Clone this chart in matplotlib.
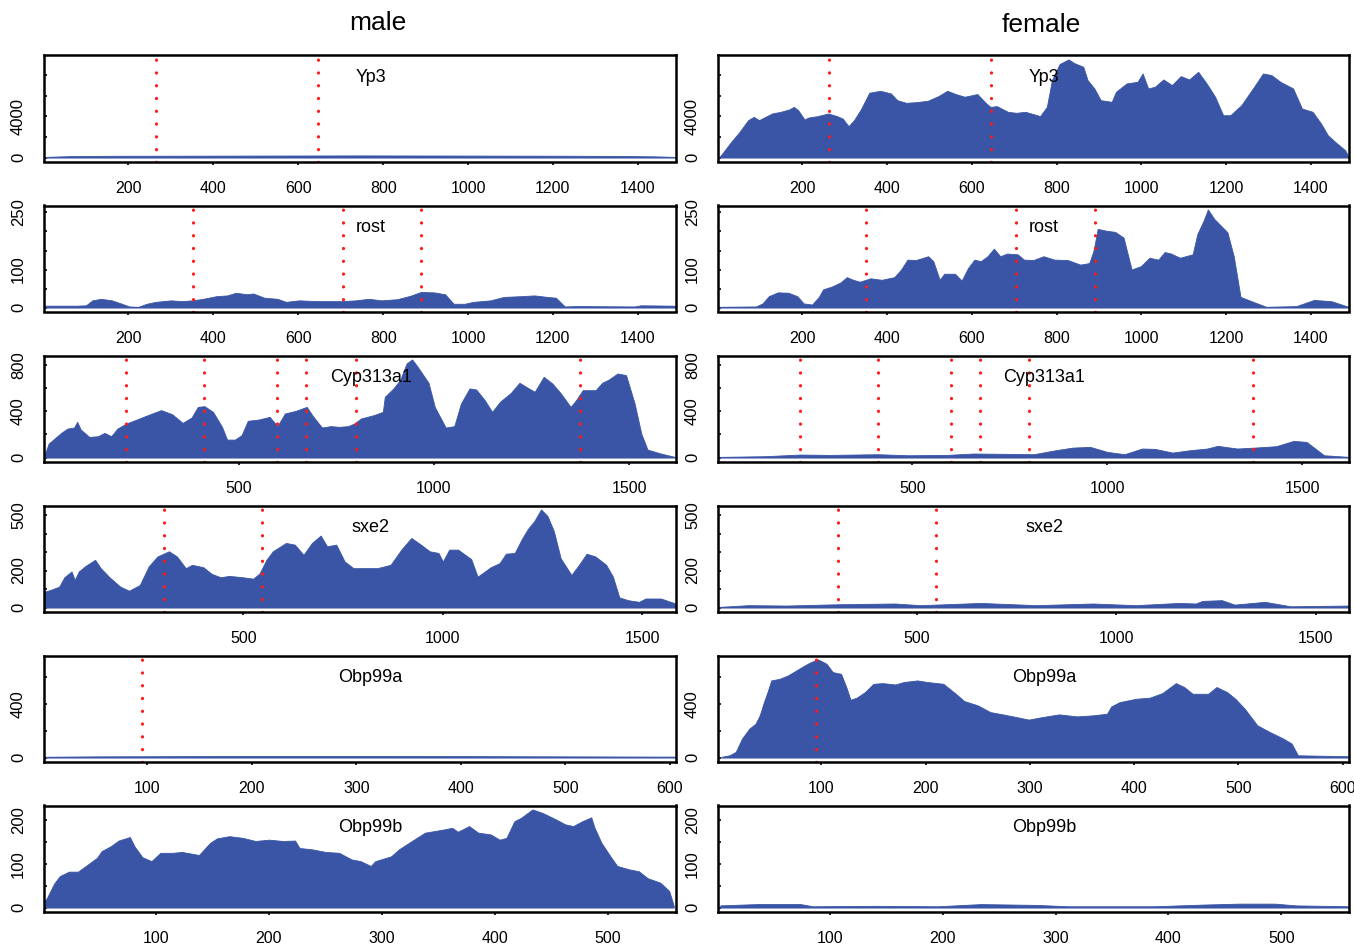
import matplotlib.pyplot as plt

plt.rcParams['font.family'] = ['Liberation Sans', 'DejaVu Sans']

# ── Genes, lengths, axes ──────────────────────────────────────────────────────
GENES = ['Yp3', 'rost', 'Cyp313a1', 'sxe2', 'Obp99a', 'Obp99b']
GENE_LEN = [1490, 1490, 1620, 1584, 606, 560]
SEXES = ['male', 'female']

X_TICKS = [
    [200, 400, 600, 800, 1000, 1200, 1400],
    [200, 400, 600, 800, 1000, 1200, 1400],
    [500, 1000, 1500],
    [500, 1000, 1500],
    [100, 200, 300, 400, 500, 600],
    [100, 200, 300, 400, 500],
]
Y_TICKS = [
    [0, 2000, 4000, 6000, 8000],
    [0, 50, 100, 150, 200, 250],
    [0, 200, 400, 600, 800],
    [0, 100, 200, 300, 400, 500],
    [0, 200, 400, 600],
    [0, 50, 100, 150, 200],
]
Y_TICK_LABELS = [
    ['0', '', '4000', '', ''],
    ['0', '', '100', '', '', '250'],
    ['0', '', '400', '', '800'],
    ['0', '', '200', '', '', '500'],
    ['0', '', '400', ''],
    ['0', '', '100', '', '200'],
]

# exon boundaries (dotted red lines)
BOUNDARIES = [
    [264, 646],
    [351, 705, 890],
    [211, 412, 598, 673, 800, 1373],
    [302, 548],
    [95],
    [],
]

# ── Coverage profiles ─────────────────────────────────────────────────────────
YP3_M_X = [1, 60, 150, 300, 450, 600, 750, 900, 1050, 1200, 1350, 1440, 1490]
YP3_M_Y = [60, 140, 170, 180, 190, 200, 210, 200, 190, 180, 160, 120, 60]
YP3_F_X = [3, 11, 32, 52, 72, 85, 98, 113, 129, 149, 169, 180, 190, 205, 215,
           236, 261, 282, 295, 309, 322, 338, 358, 384, 409, 424, 445, 470,
           496, 521, 542, 562, 583, 613, 634, 644, 659, 685, 705, 726, 746,
           761, 777, 789, 807, 828, 843, 863, 873, 889, 904, 930, 940, 965,
           991, 1003, 1016, 1032, 1052, 1072, 1093, 1113, 1134, 1154, 1174,
           1193, 1210, 1236, 1266, 1287, 1307, 1328, 1358, 1379, 1404, 1424,
           1440, 1460, 1481, 1490]
YP3_F_Y = [0, 390, 1520, 2500, 3630, 3950, 3630, 3950, 4280, 4440, 4670, 4920,
           4600, 3700, 3890, 4020, 4280, 4020, 3790, 3050, 3630, 4670, 6290,
           6480, 6220, 5570, 5310, 5380, 5510, 5960, 6480, 6160, 5900, 6160,
           5250, 4920, 4990, 4440, 4340, 4440, 4210, 4020, 4920, 7520, 9070,
           9520, 9140, 8810, 7520, 6710, 5570, 5410, 6380, 7190, 7350, 8160,
           6710, 6870, 7580, 7030, 7900, 7580, 8320, 7190, 5900, 4110, 4110,
           5090, 6870, 8160, 8000, 7350, 6710, 4760, 4440, 3300, 2170, 1430,
           710, 0]

ROST_M_X = [2, 79, 100, 115, 135, 161, 187, 202, 223, 243, 264, 300, 325, 351,
            376, 407, 433, 453, 479, 494, 520, 551, 571, 602, 643, 674, 705,
            735, 766, 797, 833, 864, 889, 920, 946, 966, 992, 1012, 1053, 1084,
            1125, 1156, 1187, 1207, 1228, 1258, 1392, 1407, 1484, 1490]
ROST_M_Y = [5, 5, 6, 19, 23, 19, 9, 3, 2, 10, 15, 19, 17, 19, 23, 30, 32, 39,
            35, 37, 26, 23, 15, 19, 17, 17, 17, 19, 23, 19, 22, 31, 41, 40, 35,
            10, 10, 15, 19, 28, 30, 32, 28, 26, 3, 4, 3, 6, 5, 4]
ROST_F_X = [4, 91, 106, 121, 142, 167, 188, 203, 223, 239, 249, 269, 290, 305,
            320, 336, 361, 387, 417, 433, 448, 468, 497, 509, 524, 535, 560,
            576, 591, 606, 621, 637, 652, 667, 683, 708, 723, 745, 769, 795,
            826, 856, 877, 887, 897, 917, 938, 958, 977, 999, 1019, 1040, 1055,
            1070, 1091, 1121, 1132, 1147, 1157, 1172, 1203, 1218, 1234, 1264,
            1295, 1366, 1407, 1448, 1489]
ROST_F_Y = [2, 3, 11, 30, 40, 39, 30, 11, 8, 28, 48, 55, 66, 80, 73, 68, 77, 73,
            80, 100, 126, 125, 135, 122, 73, 89, 89, 71, 104, 126, 122, 135, 155,
            135, 142, 140, 126, 125, 135, 126, 125, 113, 117, 149, 207, 202, 199,
            184, 100, 109, 131, 126, 146, 142, 131, 140, 193, 229, 258, 233, 198,
            135, 28, 15, 2, 4, 20, 17, 2]

CYP_M_X = [2, 13, 28, 45, 61, 78, 86, 95, 117, 139, 156, 173, 189, 212, 234,
           267, 301, 329, 356, 379, 395, 412, 434, 457, 470, 490, 507, 523, 551,
           579, 599, 618, 646, 674, 690, 713, 735, 757, 780, 796, 813, 846, 869,
           874, 896, 913, 930, 944, 958, 986, 1002, 1030, 1052, 1069, 1091,
           1108, 1130, 1149, 1169, 1197, 1219, 1236, 1258, 1281, 1303, 1325,
           1350, 1364, 1381, 1414, 1431, 1448, 1470, 1492, 1514, 1531, 1547,
           1581, 1617]
CYP_M_Y = [20, 121, 164, 213, 250, 259, 308, 242, 178, 184, 213, 184, 250, 294,
           322, 366, 409, 374, 299, 345, 437, 443, 394, 265, 155, 155, 193, 317,
           328, 351, 271, 380, 403, 437, 357, 259, 271, 265, 271, 294, 337, 366,
           394, 524, 596, 668, 812, 846, 783, 645, 437, 259, 271, 466, 596, 587,
           495, 394, 481, 558, 645, 610, 567, 696, 639, 553, 437, 495, 581, 581,
           645, 673, 725, 711, 466, 207, 69, 35, 6]
CYP_F_X = [6, 122, 211, 289, 411, 489, 589, 656, 744, 811, 867, 911, 956, 1000,
           1044, 1089, 1122, 1167, 1211, 1256, 1283, 1333, 1378, 1433, 1478,
           1511, 1556, 1620]
CYP_F_Y = [6, 12, 26, 23, 29, 20, 23, 35, 32, 29, 63, 86, 92, 49, 29, 78, 75, 43,
           63, 78, 101, 78, 86, 98, 144, 135, 20, 6]

SXE2_M_X = [1, 17, 39, 52, 70, 78, 88, 105, 129, 143, 165, 192, 214, 241, 263,
            285, 314, 334, 356, 372, 400, 421, 443, 465, 498, 525, 541, 558,
            574, 607, 629, 651, 672, 694, 710, 733, 754, 776, 803, 836, 869,
            896, 921, 945, 967, 989, 1000, 1016, 1038, 1071, 1087, 1120, 1142,
            1158, 1180, 1197, 1213, 1229, 1246, 1262, 1278, 1295, 1322, 1344,
            1360, 1382, 1409, 1426, 1442, 1464, 1491, 1508, 1546, 1583]
SXE2_M_Y = [85, 95, 113, 164, 195, 149, 195, 225, 258, 213, 164, 113, 91, 122,
            222, 276, 304, 276, 213, 231, 218, 182, 164, 171, 164, 156, 185, 258,
            304, 349, 340, 285, 349, 389, 331, 340, 249, 213, 213, 213, 231, 313,
            376, 340, 304, 295, 249, 313, 313, 262, 167, 218, 240, 291, 295, 367,
            425, 467, 530, 495, 413, 267, 176, 240, 291, 276, 231, 167, 55, 40,
            31, 49, 49, 22]
SXE2_F_X = [6, 77, 174, 303, 444, 509, 660, 800, 941, 1049, 1157, 1200, 1216,
            1265, 1297, 1373, 1437, 1584]
SXE2_F_Y = [4, 13, 11, 18, 22, 13, 25, 13, 22, 13, 25, 22, 36, 40, 16, 31, 7, 11]

OBP99A_M_X = [1, 50, 100, 200, 300, 400, 500, 606]
OBP99A_M_Y = [6, 9, 10, 12, 12, 11, 9, 7]
OBP99A_F_X = [4, 12, 18, 24, 31, 37, 41, 45, 49, 52, 60, 68, 76, 84, 90, 97, 105,
              111, 119, 124, 128, 134, 142, 150, 159, 171, 179, 192, 202, 217,
              229, 237, 250, 262, 274, 287, 299, 312, 328, 345, 361, 374, 378,
              386, 402, 415, 427, 440, 448, 456, 471, 479, 489, 497, 506, 518,
              530, 543, 551, 557, 605]
OBP99A_F_Y = [5, 17, 42, 141, 215, 252, 314, 412, 499, 573, 585, 610, 647, 684,
              709, 729, 697, 635, 622, 524, 430, 445, 487, 548, 553, 543, 561,
              573, 561, 548, 474, 420, 388, 338, 321, 301, 282, 301, 321, 306,
              314, 326, 380, 412, 437, 445, 479, 553, 524, 474, 474, 524, 487,
              437, 363, 240, 190, 141, 104, 17, 10]

OBP99B_M_X = [2, 4, 10, 15, 23, 31, 38, 48, 52, 60, 67, 77, 81, 88, 96, 104, 115,
              123, 138, 148, 154, 165, 177, 188, 200, 212, 223, 227, 238, 250,
              262, 273, 281, 290, 294, 308, 315, 327, 338, 354, 362, 367, 377,
              385, 396, 404, 410, 417, 423, 433, 442, 454, 462, 469, 477, 485,
              488, 494, 502, 508, 519, 527, 535, 546, 554, 558]
OBP99B_M_Y = [15, 24, 55, 72, 82, 82, 95, 114, 129, 140, 153, 161, 140, 115, 106,
              125, 125, 127, 120, 148, 158, 163, 159, 152, 155, 152, 153, 136,
              133, 127, 125, 110, 106, 95, 106, 117, 133, 153, 171, 178, 182, 173,
              186, 171, 167, 155, 159, 197, 205, 224, 216, 201, 190, 186, 197,
              206, 182, 148, 117, 95, 87, 83, 67, 57, 38, 4]
OBP99B_F_X = [3, 36, 74, 85, 139, 196, 234, 284, 311, 387, 433, 463, 494, 513, 559]
OBP99B_F_Y = [5, 8, 8, 3, 4, 3, 8, 6, 3, 3, 7, 9, 9, 5, 3]

COVERAGE = {
    'Yp3': [(YP3_M_X, YP3_M_Y), (YP3_F_X, YP3_F_Y)],
    'rost': [(ROST_M_X, ROST_M_Y), (ROST_F_X, ROST_F_Y)],
    'Cyp313a1': [(CYP_M_X, CYP_M_Y), (CYP_F_X, CYP_F_Y)],
    'sxe2': [(SXE2_M_X, SXE2_M_Y), (SXE2_F_X, SXE2_F_Y)],
    'Obp99a': [(OBP99A_M_X, OBP99A_M_Y), (OBP99A_F_X, OBP99A_F_Y)],
    'Obp99b': [(OBP99B_M_X, OBP99B_M_Y), (OBP99B_F_X, OBP99B_F_Y)],
}

# ── Figure ────────────────────────────────────────────────────────────────────
W, H = 1354, 944
fig = plt.figure(figsize=(W / 100, H / 100), dpi=100)

FILL = '#3A55A5'
COL_LEFT = [44, 718]
COL_WIDTH = [632, 631]
ROW_TOP0, ROW_STEP, ROW_H = 55.5, 150, 106

for r, gene in enumerate(GENES):
    # shared y scale for both sexes, R style 4% padding
    ymax = max(max(y) for _, y in COVERAGE[gene])
    for c, sex in enumerate(SEXES):
        top = ROW_TOP0 + r * ROW_STEP
        ax = fig.add_axes([COL_LEFT[c] / W, 1 - (top + ROW_H) / H,
                           COL_WIDTH[c] / W, ROW_H / H])
        xs, ys = COVERAGE[gene][c]
        ax.fill_between(xs, ys, 0, color=FILL, lw=0.6, edgecolor=FILL, zorder=2)
        for b in BOUNDARIES[r]:
            ax.axvline(b, color='#FF1A1A', lw=2.3, linestyle=(0, (0.05, 3.95)),
                       dash_capstyle='round', zorder=3)

        ax.set_xlim(1, GENE_LEN[r])
        ax.set_ylim(-0.04 * ymax, 1.04 * ymax)
        ax.set_xticks(X_TICKS[r])
        ax.set_yticks(Y_TICKS[r])
        ax.set_yticklabels(Y_TICK_LABELS[r])
        ax.tick_params(axis='x', direction='out', length=2, width=1.2,
                       pad=12, labelsize=11.5, colors='black')
        ax.tick_params(axis='y', direction='in', length=2.5, width=1.2,
                       pad=13, labelsize=12, labelrotation=90)
        for lab in ax.get_yticklabels():
            lab.set_va('center')
        for sp in ax.spines.values():
            sp.set_linewidth(1.8)
            sp.set_zorder(4)

        ax.text(0.517, 0.795, gene, transform=ax.transAxes,
                ha='center', va='center', fontsize=13, zorder=5)

fig.text(378 / W, 1 - 23 / H, 'male', ha='center', va='center', fontsize=19)
fig.text(1041 / W, 1 - 25 / H, 'female', ha='center', va='center', fontsize=19)

fig.savefig('out.png', dpi=100)
